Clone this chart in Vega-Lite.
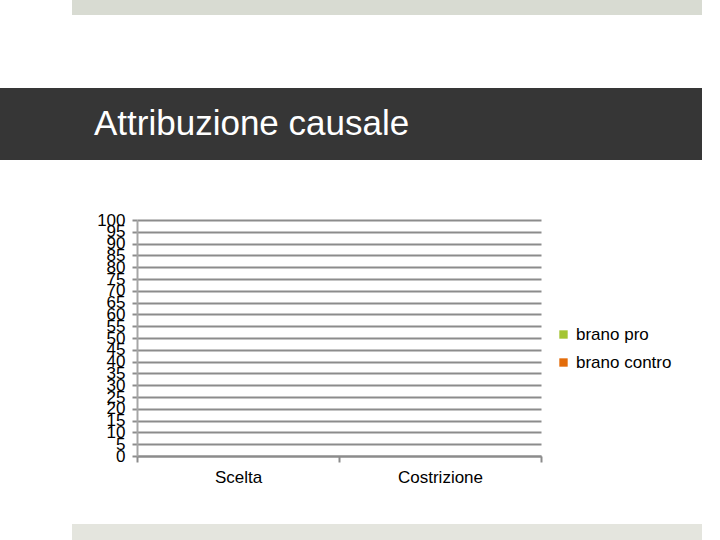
{
  "$schema": "https://vega.github.io/schema/vega-lite/v6.json",
  "background": "#ffffff",
  "padding": 0,
  "spacing": 0,
  "bounds": "flush",
  "config": {
    "view": {"stroke": null},
    "font": "Liberation Sans"
  },
  "vconcat": [
    {
      "spacing": 0,
      "bounds": "flush",
      "hconcat": [
        {"width": 72, "height": 15, "data": {"values": []}, "mark": "rect", "encoding": {}},
        {"width": 630, "height": 15, "view": {"fill": "#d8dbd2", "stroke": null}, "data": {"values": []}, "mark": "rect", "encoding": {}}
      ]
    },
    {"width": 702, "height": 88, "data": {"values": []}, "mark": "rect", "encoding": {}},
    {
      "width": 702,
      "height": 72,
      "view": {"fill": "#363636", "stroke": null},
      "data": {"values": []},
      "mark": "rect",
      "encoding": {},
      "title": {
        "text": "Attribuzione causale",
        "orient": "top",
        "anchor": "start",
        "frame": "group",
        "offset": -82,
        "dx": 94,
        "baseline": "alphabetic",
        "color": "#ffffff",
        "font": "Liberation Sans",
        "fontSize": 35,
        "fontWeight": "normal"
      }
    },
    {"width": 702, "height": 60, "data": {"values": []}, "mark": "rect", "encoding": {}},
    {
      "spacing": 0,
      "bounds": "flush",
      "hconcat": [
        {"width": 137, "height": 236, "data": {"values": []}, "mark": "rect", "encoding": {}},
        {
          "width": 404,
          "height": 236,
          "data": {
            "values": [
              {"categoria": "Scelta", "serie": "brano pro", "valore": 0},
              {"categoria": "Scelta", "serie": "brano contro", "valore": 0},
              {"categoria": "Costrizione", "serie": "brano pro", "valore": 0},
              {"categoria": "Costrizione", "serie": "brano contro", "valore": 0}
            ]
          },
          "mark": {"type": "bar"},
          "encoding": {
            "x": {
              "field": "categoria",
              "type": "nominal",
              "sort": ["Scelta", "Costrizione"],
              "scale": {"paddingInner": 0, "paddingOuter": 0},
              "axis": {
                "title": null,
                "labelAngle": 0,
                "labelFont": "Liberation Sans",
                "labelFontSize": 17,
                "labelColor": "#000000",
                "labelPadding": 7,
                "tickBand": "extent",
                "tickSize": 6,
                "tickWidth": 2,
                "tickColor": "#8c8c8c",
                "domainColor": "#8c8c8c",
                "domainWidth": 2,
                "grid": false
              }
            },
            "xOffset": {"field": "serie", "sort": ["brano pro", "brano contro"]},
            "y": {
              "field": "valore",
              "type": "quantitative",
              "scale": {"domain": [0, 100]},
              "axis": {
                "title": null,
                "values": [0, 5, 10, 15, 20, 25, 30, 35, 40, 45, 50, 55, 60, 65, 70, 75, 80, 85, 90, 95, 100],
                "labelOverlap": false,
                "labelFont": "Liberation Sans",
                "labelFontSize": 17,
                "labelColor": "#000000",
                "labelPadding": 7,
                "tickSize": 5,
                "tickWidth": 2,
                "tickColor": "#8c8c8c",
                "grid": true,
                "gridColor": "#8c8c8c",
                "gridWidth": 2,
                "domainColor": "#a6a6a6",
                "domainWidth": 2
              }
            },
            "color": {
              "field": "serie",
              "type": "nominal",
              "scale": {"domain": ["brano pro", "brano contro"], "range": ["#a3c431", "#e36c0a"]},
              "legend": {
                "title": null,
                "orient": "none",
                "legendX": 555,
                "legendY": 326,
                "symbolType": "square",
                "symbolSize": 70,
                "symbolStrokeWidth": 0,
                "labelFont": "Liberation Sans",
                "labelFontSize": 17,
                "labelColor": "#000000",
                "labelOffset": 4,
                "rowPadding": 10
              }
            }
          }
        }
      ]
    },
    {"width": 702, "height": 304, "data": {"values": []}, "mark": "rect", "encoding": {}},
    {
      "spacing": 0,
      "bounds": "flush",
      "hconcat": [
        {"width": 72, "height": 16, "data": {"values": []}, "mark": "rect", "encoding": {}},
        {"width": 630, "height": 16, "view": {"fill": "#e4e5de", "stroke": null}, "data": {"values": []}, "mark": "rect", "encoding": {}}
      ]
    }
  ]
}
